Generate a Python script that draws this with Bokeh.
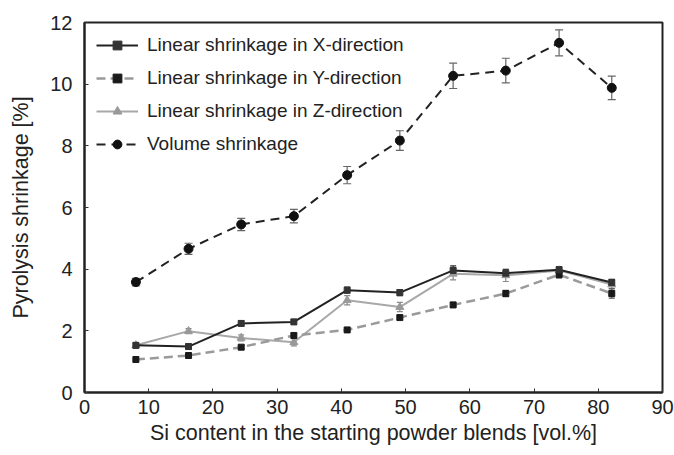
from bokeh.plotting import figure
from bokeh.models import ColumnDataSource, Whisker, TeeHead, Legend, LegendItem, FixedTicker
from bokeh.embed import file_html
from bokeh.resources import INLINE

si = [8.0, 16.2, 24.4, 32.6, 40.9, 49.1, 57.4, 65.6, 73.9, 82.1]
lin_x = [1.53, 1.49, 2.24, 2.29, 3.32, 3.24, 3.96, 3.87, 3.98, 3.57]
lin_x_err = [0.08, 0.08, 0.08, 0.08, 0.1, 0.1, 0.15, 0.12, 0.1, 0.1]
lin_y = [1.07, 1.2, 1.47, 1.85, 2.03, 2.43, 2.84, 3.21, 3.82, 3.21]
lin_y_err = [0.05, 0.05, 0.06, 0.06, 0.06, 0.06, 0.08, 0.1, 0.1, 0.15]
lin_z = [1.53, 1.99, 1.77, 1.63, 2.99, 2.77, 3.85, 3.8, 3.96, 3.5]
lin_z_err = [0.08, 0.08, 0.1, 0.12, 0.15, 0.15, 0.2, 0.2, 0.1, 0.12]
vol = [3.58, 4.66, 5.45, 5.72, 7.05, 8.17, 10.27, 10.44, 11.34, 9.88]
vol_err = [0.12, 0.18, 0.2, 0.22, 0.28, 0.32, 0.41, 0.4, 0.42, 0.38]

labels = ["Linear shrinkage in X-direction", "Linear shrinkage in Y-direction",
          "Linear shrinkage in Z-direction", "Volume shrinkage"]

FONT = "Liberation Sans"

p = figure(width=674, height=455, x_range=(0, 90), y_range=(0, 12),
           output_backend="svg", toolbar_location=None,
           min_border_left=84, min_border_right=12, min_border_top=22, min_border_bottom=63)
p.grid.visible = False
p.outline_line_color = "#222222"
p.outline_line_width = 2

for ax in (p.xaxis[0], p.yaxis[0]):
    ax.axis_line_color = "#222222"
    ax.axis_line_width = 2
    ax.major_tick_in = 4
    ax.major_tick_out = 0
    ax.minor_tick_line_color = None
    ax.major_tick_line_color = "#333333"
    ax.major_label_text_font = FONT
    ax.major_label_text_font_size = "20px"
    ax.major_label_text_color = "#222222"
    ax.axis_label_text_font = FONT
    ax.axis_label_text_font_size = "21.5px"
    ax.axis_label_text_font_style = "normal"
    ax.axis_label_text_color = "#222222"

p.xaxis.ticker = FixedTicker(ticks=list(range(0, 91, 10)))
p.yaxis.ticker = FixedTicker(ticks=list(range(0, 13, 2)))
p.xaxis.axis_label = "Si content in the starting powder blends [vol.%]"
p.yaxis.axis_label = "Pyrolysis shrinkage [%]"
p.xaxis.major_label_standoff = 7
p.yaxis.major_label_standoff = 12
p.xaxis.axis_label_standoff = 4
p.yaxis.axis_label_standoff = 14


def add_err(x, y, e, color, size=7):
    src = ColumnDataSource(dict(x=x, lo=[a - b for a, b in zip(y, e)], hi=[a + b for a, b in zip(y, e)]))
    w = Whisker(source=src, base="x", lower="lo", upper="hi", line_color=color, line_width=1.2,
                upper_head=TeeHead(size=size, line_color=color, line_width=1.2),
                lower_head=TeeHead(size=size, line_color=color, line_width=1.2))
    p.add_layout(w)


add_err(si, lin_z, lin_z_err, "#888888", 6)
add_err(si, lin_y, lin_y_err, "#555555", 6)
add_err(si, lin_x, lin_x_err, "#333333", 6)
add_err(si, vol, vol_err, "#666666", 8)

# Z
z_line = p.line(si, lin_z, line_color="#a8a8a8", line_width=2)
z_mark = p.scatter(si, lin_z, marker="triangle", size=8, fill_color="#999999", line_color="#999999")
# Y
y_line = p.line(si, lin_y, line_color="#9a9a9a", line_width=2.5, line_dash="9 5")
y_mark = p.scatter(si, lin_y, marker="square", size=6, fill_color="#1a1a1a", line_color="#1a1a1a")
# X
x_line = p.line(si, lin_x, line_color="#222222", line_width=2)
x_mark = p.scatter(si, lin_x, marker="square", size=6, fill_color="#333333", line_color="#333333")
# Volume
v_line = p.line(si, vol, line_color="#222222", line_width=2, line_dash="9 6")
v_mark = p.scatter(si, vol, marker="circle", size=9, fill_color="#111111", line_color="#111111")

legend = Legend(items=[
    LegendItem(label=labels[0], renderers=[x_line, x_mark]),
    LegendItem(label=labels[1], renderers=[y_line, y_mark]),
    LegendItem(label=labels[2], renderers=[z_line, z_mark]),
    LegendItem(label=labels[3], renderers=[v_line, v_mark]),
], location="top_left")
legend.border_line_color = None
legend.background_fill_alpha = 0
legend.label_text_font = FONT
legend.label_text_font_size = "19px"
legend.label_text_color = "#222222"
legend.glyph_width = 42
legend.glyph_height = 22
legend.spacing = 11
legend.label_standoff = 9
legend.margin = 12
legend.padding = 6
p.add_layout(legend)

open("out.html", "w").write(file_html(p, INLINE))
